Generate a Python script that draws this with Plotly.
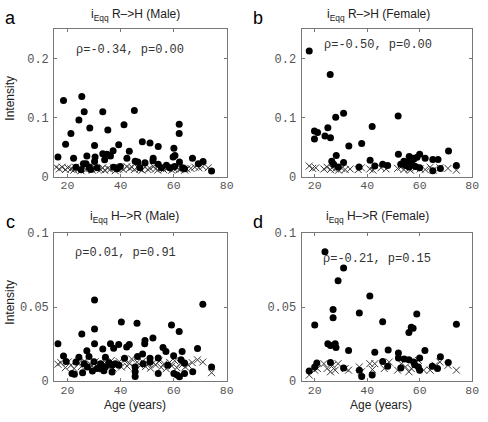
import plotly.graph_objects as go

# ---------- data ----------
# Panel a: iEqq R->H (Male)
a_age = [18.5,25.4,26.3,33.3,45.2,24.3,28.4,35.2,41.3,62.1,62.1,21.3,19.3,30.2,39.3,37.2,43.3,48.2,51.1,54.2,60.1,
         16.4,22.3,27.3,30.4,33.3,34.9,36.2,34.0,30.2,27.0,26.0,42.4,52.3,52.2,59.8,60.5,67.1,71.1,69.3,74.3,45.5,
         46.5,49.2,54.2,57.3,62.2,63.4,64.1,23.2,25.1,28.2,31.2,37.4,39.9,28.8,38.7,47.3,55.4,58.5,60.4]
a_int = [0.129,0.136,0.110,0.110,0.112,0.096,0.0825,0.079,0.088,0.089,0.073,0.073,0.055,0.053,0.054,0.044,0.043,
         0.059,0.057,0.051,0.048,0.0335,0.031,0.035,0.0335,0.039,0.038,0.035,0.0285,0.0255,0.022,0.022,0.031,0.031,
         0.0268,0.0335,0.036,0.031,0.0255,0.022,0.0095,0.026,0.025,0.0235,0.021,0.0195,0.025,0.015,0.0135,0.016,
         0.0118,0.016,0.015,0.016,0.017,0.012,0.0135,0.015,0.015,0.015,0.017]
a_ctl_age = [15.8,16.9,18.0,19.2,20.1,21.3,22.4,23.0,24.2,25.1,26.3,27.0,28.2,29.4,30.1,31.2,32.5,33.3,34.0,35.2,
             36.1,37.4,38.0,39.3,40.2,41.0,42.4,43.5,44.3,45.2,46.5,47.3,48.1,49.2,50.3,51.1,52.4,53.2,54.0,55.3,
             56.2,57.4,58.1,59.3,60.2,61.4,62.1,63.0,64.2,65.0,66.5,68.0,69.5,71.0,73.0]
a_ctl_int = [0.016,0.013,0.016,0.012,0.015,0.013,0.011,0.016,0.013,0.010,0.015,0.012,0.014,0.011,0.016,0.013,0.012,
             0.015,0.011,0.014,0.012,0.016,0.010,0.013,0.015,0.012,0.017,0.014,0.016,0.012,0.015,0.013,0.011,0.016,
             0.012,0.014,0.017,0.013,0.011,0.015,0.012,0.014,0.016,0.011,0.013,0.015,0.012,0.014,0.011,0.013,0.014,
             0.016,0.015,0.017,0.015]

# Panel b: iEqq R->H (Female)
b_age = [17.9,25.9,31.0,28.0,51.8,41.9,19.9,21.1,25.0,23.9,26.0,19.9,33.0,37.9,71.0,28.2,51.9,60.0,56.0,57.5,62.1,
         65.0,67.0,41.1,26.5,31.0,27.2,29.0,36.9,42.9,45.9,47.8,52.8,54.0,55.3,56.5,57.8,59.0,54.6,57.1,60.0,65.0,
         67.9,74.0,55.9,58.4]
b_int = [0.213,0.173,0.1075,0.1005,0.103,0.085,0.0776,0.075,0.083,0.069,0.066,0.064,0.052,0.056,0.0433,0.036,0.038,
         0.038,0.034,0.031,0.031,0.0292,0.0292,0.028,0.026,0.024,0.021,0.0163,0.0163,0.018,0.021,0.019,0.021,0.026,
         0.024,0.027,0.030,0.033,0.019,0.021,0.015,0.010,0.014,0.019,0.0163,0.017]
b_ctl_age = [17.9,19.2,20.4,23.5,24.7,26.0,26.6,27.8,29.1,30.3,31.6,33.5,36.6,37.8,41.0,42.2,45.3,47.2,51.6,52.8,
             54.0,55.9,56.5,58.4,60.2,62.1,64.0,65.2,67.7,70.8,74.0]
b_ctl_int = [0.018,0.014,0.015,0.013,0.016,0.012,0.015,0.013,0.011,0.014,0.012,0.013,0.012,0.015,0.013,0.011,0.015,
             0.013,0.014,0.016,0.012,0.013,0.011,0.015,0.013,0.012,0.016,0.011,0.015,0.014,0.011]

# Panel c: iEqq H->R (Male)
c_age = [30.2,71.0,40.3,46.2,59.2,62.1,30.2,25.4,52.2,49.2,49.1,16.4,30.2,36.2,39.3,43.3,42.3,33.3,37.4,56.0,57.1,
         60.0,69.0,63.2,27.3,18.5,19.5,24.3,28.1,34.3,48.3,46.4,51.1,54.2,41.5,23.2,26.3,30.0,32.5,35.6,38.0,62.8,
         64.1,21.7,22.6,25.7,29.4,33.7,36.8,45.5,45.5,45.5,54.2,60.1,61.3,62.2,64.1,67.2,74.3,32.5,34.3,36.8,39.3,
         57.8,48.5,51.1,31.2,27.5]
c_int = [0.0549,0.052,0.040,0.0392,0.038,0.0335,0.0353,0.0318,0.0292,0.0275,0.0253,0.0253,0.0253,0.0253,0.0248,
         0.0248,0.023,0.0218,0.0222,0.0227,0.0201,0.0172,0.022,0.0201,0.0205,0.017,0.0133,0.0161,0.0166,0.0161,
         0.0183,0.0166,0.0155,0.0157,0.0155,0.0129,0.0118,0.0131,0.0118,0.0124,0.0118,0.0144,0.0122,0.0052,0.0046,
         0.0057,0.0068,0.007,0.0061,0.0063,0.0031,0.0096,0.0052,0.0052,0.0041,0.003,0.0052,0.0063,0.0096,0.0085,
         0.0096,0.0107,0.0107,0.0107,0.0118,0.0129,0.0085,0.0096]
c_ctl_age = [16.4,17.5,19.2,20.3,21.3,22.5,24.4,25.2,26.4,27.3,28.5,29.2,30.4,31.3,32.2,33.5,34.4,35.3,36.5,37.2,
             38.4,39.5,40.3,41.4,42.5,43.3,44.2,45.4,46.3,47.5,48.2,49.4,50.5,51.3,52.4,53.2,54.5,55.3,56.4,57.2,
             58.5,59.3,60.4,61.2,62.5,63.3,64.4,65.5,67.0,69.0,71.0,74.3]
c_ctl_int = [0.0114,0.0125,0.0091,0.0130,0.0107,0.0085,0.0122,0.0098,0.0135,0.0089,0.0118,0.0102,0.0131,0.0094,
             0.0112,0.0082,0.0126,0.0097,0.0139,0.0088,0.0110,0.0132,0.0095,0.0141,0.0101,0.0120,0.0150,0.0090,
             0.0128,0.0105,0.0133,0.0098,0.0115,0.0087,0.0124,0.0109,0.0136,0.0093,0.0118,0.0084,0.0127,0.0102,
             0.0138,0.0091,0.0120,0.0112,0.0096,0.0108,0.0125,0.0144,0.0129,0.0057]

# Panel d: iEqq H->R (Female)
d_age = [23.9,31.0,28.9,41.0,27.0,27.0,37.0,58.9,20.0,45.9,74.0,56.8,57.5,55.9,25.0,26.0,27.8,28.1,32.9,42.9,48.0,
         51.9,51.9,54.1,55.9,57.7,60.0,62.0,67.9,70.9,45.9,47.8,52.8,59.5,60.0,64.8,66.8,31.0,26.0,20.8,20.0,17.9,
         37.0,37.9,41.9,58.1]
d_int = [0.0874,0.0765,0.0678,0.0575,0.0484,0.0429,0.046,0.0453,0.0379,0.0401,0.0385,0.0364,0.0357,0.0329,0.0253,
         0.024,0.0253,0.0227,0.0207,0.0196,0.0211,0.019,0.0157,0.015,0.0144,0.0129,0.0157,0.0207,0.0165,0.0126,
         0.0133,0.010,0.0089,0.0096,0.0074,0.010,0.0085,0.0089,0.0126,0.0122,0.0096,0.0068,0.0074,0.0031,0.0041,
         0.0111]
d_ctl_age = [17.9,20.0,21.0,23.5,24.7,26.0,26.8,27.8,28.9,31.6,32.9,37.0,37.8,41.0,42.9,42.0,46.5,48.4,51.6,53.0,
             54.6,55.9,56.8,58.4,59.5,61.5,64.0,65.9,67.7,70.8,74.0]
d_ctl_int = [0.0041,0.0074,0.0085,0.0118,0.0085,0.0063,0.0107,0.0074,0.0118,0.0085,0.0074,0.0096,0.0063,0.0118,
             0.0118,0.0078,0.0085,0.0129,0.0074,0.0118,0.0096,0.0063,0.0085,0.0129,0.0140,0.0074,0.0074,0.0107,
             0.0129,0.0107,0.0074]

titles = ["i<sub>Eqq</sub> R–>H (Male)", "i<sub>Eqq</sub> R–>H (Female)",
          "i<sub>Eqq</sub> H–>R (Male)", "i<sub>Eqq</sub> H–>R (Female)"]
stats = ["ρ=-0.34, p=0.00", "ρ=-0.50, p=0.00", "ρ=0.01, p=0.91", "ρ=-0.21, p=0.15"]
letters = ["a", "b", "c", "d"]
x_ticks = [20, 40, 60, 80]
y_ticks_top = [0, 0.1, 0.2]
y_ticks_top_text = ["0", "0.1", "0.2"]
y_ticks_bot = [0, 0.05, 0.1]
y_ticks_bot_text = ["0", "0.05", "0.1"]

# ---------- figure ----------
W, H = 488, 422
fig = go.Figure()

panels = [
    (a_age, a_int, a_ctl_age, a_ctl_int),
    (b_age, b_int, b_ctl_age, b_ctl_int),
    (c_age, c_int, c_ctl_age, c_ctl_int),
    (d_age, d_int, d_ctl_age, d_ctl_int),
]
# plot-area boxes in pixels (left, right, top, bottom)
boxes = [(55, 230, 24, 176.5), (306, 479, 24, 176.5), (55, 230, 235, 388), (306, 479, 235, 388)]
stat_x = [75, 327, 74, 326]
stat_y = [46, 40, 255, 262]
title_x = [137, 384, 136, 383]
title_y = [9.5, 9.5, 218, 218]
letter_x = [3, 255, 4, 255]
letter_y = [12, 12, 223, 223]

mono = "Liberation Mono, Courier New, monospace"
sans = "Liberation Sans, Arial, sans-serif"


def px_x(v):
    return v / W


def px_y(v):
    return 1 - v / H


for i, (xs, ys, cx, cy) in enumerate(panels):
    n = "" if i == 0 else str(i + 1)
    xa, ya = "x" + n, "y" + n
    fig.add_trace(go.Scatter(x=cx, y=cy, mode="markers", xaxis=xa, yaxis=ya,
                             marker=dict(symbol="x-thin-open", size=7, color="#3a3a3a",
                                         line=dict(width=1, color="#3a3a3a")),
                             showlegend=False, hoverinfo="skip"))
    fig.add_trace(go.Scatter(x=xs, y=ys, mode="markers", xaxis=xa, yaxis=ya,
                             marker=dict(symbol="circle", size=7, color="black", line=dict(width=0)),
                             showlegend=False))
    l, r, t, b = boxes[i]
    top = i < 2
    common = dict(showline=True, mirror="ticks", linecolor="#777777", linewidth=1,
                  ticks="inside", ticklen=3, tickcolor="#777777", showgrid=False, zeroline=False)
    xaxis = dict(domain=[px_x(l), px_x(r)], range=[15, 80], tickvals=x_ticks,
                 ticktext=[str(v) for v in x_ticks], anchor=ya, ticklabelstandoff=-2,
                 tickfont=dict(family=mono, size=11.5, color="#555555"), **common)
    yaxis = dict(domain=[px_y(b), px_y(t)], range=[0, 0.25] if top else [0, 0.1],
                 tickvals=y_ticks_top if top else y_ticks_bot,
                 ticktext=y_ticks_top_text if top else y_ticks_bot_text, anchor=xa,
                 ticklabelstandoff=2, tickfont=dict(family=mono, size=12, color="#555555"), **common)
    fig.layout["xaxis" + n] = xaxis
    fig.layout["yaxis" + n] = yaxis

    # title
    fig.add_annotation(text=titles[i], x=px_x(title_x[i]), y=px_y(title_y[i]),
                       xref="paper", yref="paper", showarrow=False, xanchor="center", yanchor="middle",
                       font=dict(family=sans, size=12, color="#222222"))
    # stats text
    fig.add_annotation(text=stats[i], x=px_x(stat_x[i]), y=px_y(stat_y[i]), xref="paper", yref="paper",
                       showarrow=False, xanchor="left", yanchor="middle",
                       font=dict(family=mono, size=12, color="#333333"))
    # panel letter
    fig.add_annotation(text=letters[i], x=px_x(letter_x[i]), y=px_y(letter_y[i]),
                       xref="paper", yref="paper", showarrow=False, xanchor="left", yanchor="middle",
                       font=dict(family=sans, size=18, color="black"))
    # axis titles
    if i in (0, 2):
        fig.add_annotation(text="Intensity", x=px_x(10), y=px_y(95 if i == 0 else 306),
                           xref="paper", yref="paper", showarrow=False, textangle=-90,
                           xanchor="center", yanchor="middle",
                           font=dict(family=sans, size=12, color="#222222"))
    if i in (2, 3):
        fig.add_annotation(text="Age (years)", x=px_x(137 if i == 2 else 387), y=px_y(413),
                           xref="paper", yref="paper", showarrow=False,
                           xanchor="center", yanchor="middle",
                           font=dict(family=sans, size=12, color="#222222"))

fig.update_layout(width=W, height=H, margin=dict(l=0, r=0, t=0, b=0),
                  paper_bgcolor="white", plot_bgcolor="white")
fig.write_html("out.html", config={"displayModeBar": False},
               post_script="document.body.style.margin='0px';document.body.style.overflow='hidden';")
